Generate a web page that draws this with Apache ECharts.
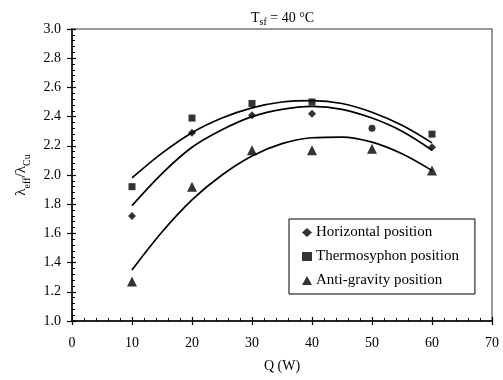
<!DOCTYPE html>
<html>
<head>
<meta charset="utf-8">
<script src="https://cdn.jsdelivr.net/npm/echarts@6/dist/echarts.min.js"></script>
<style>
  html, body { margin: 0; padding: 0; background: #fff; }
  #chart { width: 503px; height: 380px; }
</style>
</head>
<body>
<div id="chart"></div>
<script>
// measured points
const horizontalQ = [10, 20, 30, 40, 50, 60];
const horizontal = [1.72, 2.29, 2.41, 2.42, 2.32, 2.19];
const thermoQ = [10, 20, 30, 40, 60];
const thermo = [1.92, 2.39, 2.49, 2.50, 2.28];
const antiQ = [10, 20, 30, 40, 50, 60];
const anti = [1.27, 1.92, 2.17, 2.17, 2.18, 2.03];

// trend curves
const fitQ = [10, 15, 20, 25, 30, 35, 40, 45, 50, 55, 60];
const horizontalFit = [1.79, 2.01, 2.19, 2.31, 2.40, 2.45, 2.47, 2.45, 2.39, 2.30, 2.17];
const thermoFit = [1.98, 2.15, 2.29, 2.39, 2.46, 2.50, 2.51, 2.49, 2.43, 2.34, 2.22];
const antiFit = [1.35, 1.61, 1.83, 2.00, 2.13, 2.215, 2.255, 2.26, 2.225, 2.145, 2.03];

const xTicks = [0, 10, 20, 30, 40, 50, 60, 70];
const serif = 'Liberation Serif';

const pairs = (xs, ys) => xs.map((x, i) => [x, ys[i]]);

const chart = echarts.init(document.getElementById('chart'));

const grid = { left: 72, right: 11, top: 29, bottom: 59, show: true, borderColor: '#7a7a7a', borderWidth: 1.5 };

const fitLine = (name, xs, ys) => ({
  name: name,
  type: 'line',
  data: pairs(xs, ys),
  smooth: 0.35,
  showSymbol: false,
  silent: true,
  lineStyle: { color: '#000', width: 1.7 },
  z: 2
});

const points = (name, xs, ys, symbol, size) => ({
  name: name,
  type: 'scatter',
  data: pairs(xs, ys).map(p =>
    (name === 'Horizontal position' && p[0] === 50) ? { value: p, symbol: 'circle', symbolSize: 7 } : p),
  symbol: symbol,
  symbolSize: size,
  itemStyle: { color: '#000' },
  z: 3
});

chart.setOption({
  animation: false,
  title: {
    text: '{a|T}{s|sf}{a| = 40 °C}',
    left: 246,
    top: 6,
    textStyle: {
      rich: {
        a: { fontFamily: serif, fontSize: 14, fontWeight: 'normal', color: '#000', verticalAlign: 'bottom', padding: [0, 0, 2, 0] },
        s: { fontFamily: serif, fontSize: 10, fontWeight: 'normal', color: '#000', verticalAlign: 'bottom' }
      }
    }
  },
  grid: grid,
  legend: {
    orient: 'vertical',
    left: 289,
    top: 219,
    padding: [6, 16, 6, 13],
    itemWidth: 10,
    itemHeight: 9,
    itemGap: 9,
    borderColor: '#000',
    borderWidth: 1,
    borderRadius: 0,
    textStyle: { fontFamily: serif, fontSize: 15, color: '#000', padding: [0, 0, 0, -1] },
    data: [
      { name: 'Horizontal position', icon: 'diamond' },
      { name: 'Thermosyphon position', icon: 'rect' },
      { name: 'Anti-gravity position', icon: 'triangle' }
    ]
  },
  xAxis: [
    {
      type: 'value',
      min: 0,
      max: 70,
      interval: 10,
      name: 'Q (W)',
      nameLocation: 'middle',
      nameGap: 38,
      nameTextStyle: { fontFamily: serif, fontSize: 14, color: '#000' },
      axisLine: { onZero: false, lineStyle: { color: '#000', width: 1.5 } },
      axisTick: { show: true, inside: false, length: 4, lineStyle: { color: '#000', width: 1.2 } },
      axisLabel: { fontFamily: serif, fontSize: 14, color: '#000', margin: 15,
        formatter: v => xTicks.includes(v) ? String(v) : '' },
      splitLine: { show: false }
    },
    {
      type: 'value',
      min: 0,
      max: 70,
      interval: 10,
      position: 'bottom',
      axisLine: { show: false, onZero: false },
      axisTick: { show: true, inside: true, length: 4, lineStyle: { color: '#000', width: 1.2 } },
      minorTick: { show: true, splitNumber: 5, length: 3, lineStyle: { color: '#000', width: 1 } },
      axisLabel: { show: false },
      splitLine: { show: false }
    }
  ],
  yAxis: [
    {
      type: 'value',
      min: 1,
      max: 3,
      interval: 0.2,
      name: '{l|λ}{s|eff}{l|/λ}{s|Cu}',
      nameLocation: 'middle',
      nameGap: 40,
      nameTextStyle: {
        rich: {
          l: { fontFamily: serif, fontSize: 15, color: '#000', verticalAlign: 'bottom', padding: [0, 0, 3, 0] },
          s: { fontFamily: serif, fontSize: 10, color: '#000', verticalAlign: 'bottom' }
        }
      },
      axisLine: { onZero: false, lineStyle: { color: '#000', width: 1.5 } },
      axisTick: { show: true, inside: false, length: 5, lineStyle: { color: '#000', width: 1.2 } },
      axisLabel: { fontFamily: serif, fontSize: 14, color: '#000', margin: 11,
        formatter: v => v.toFixed(1) },
      splitLine: { show: false }
    },
    {
      type: 'value',
      min: 1,
      max: 3,
      interval: 0.2,
      position: 'left',
      axisLine: { show: false, onZero: false },
      axisTick: { show: true, inside: true, length: 4, lineStyle: { color: '#000', width: 1.2 } },
      minorTick: { show: true, splitNumber: 5, length: 3, lineStyle: { color: '#000', width: 1 } },
      axisLabel: { show: false },
      splitLine: { show: false }
    }
  ],
  series: [
    fitLine('fit-h', fitQ, horizontalFit),
    fitLine('fit-t', fitQ, thermoFit),
    fitLine('fit-a', fitQ, antiFit),
    points('Horizontal position', horizontalQ, horizontal, 'diamond', 8),
    points('Thermosyphon position', thermoQ, thermo, 'rect', 7),
    points('Anti-gravity position', antiQ, anti, 'triangle', 10)
  ]
});
</script>
</body>
</html>
